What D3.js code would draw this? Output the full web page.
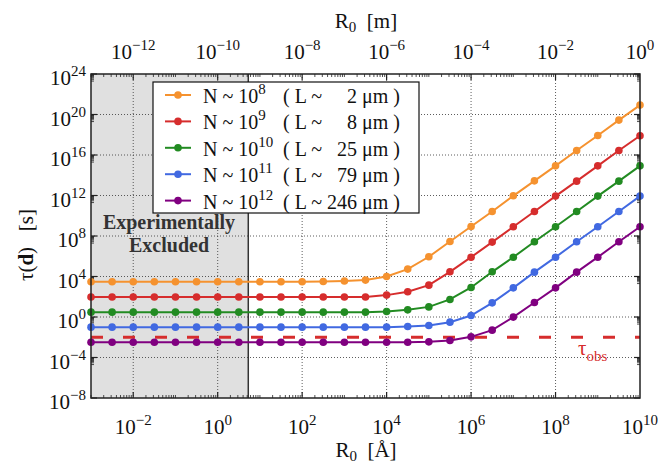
<!DOCTYPE html>
<html><head><meta charset="utf-8">
<script src="https://cdn.jsdelivr.net/npm/d3@7"></script>
<style>
body{margin:0;background:#fff;}
</style></head>
<body><svg id="c" width="658" height="464" font-family="'Liberation Serif', 'Times New Roman', Times, 'DejaVu Serif', serif"></svg>
<script>
// R0 in Angstrom
const R0 = [1e-3,3.16e-3,1e-2,3.16e-2,1e-1,3.16e-1,1,3.16,10,31.6,100,316,1e3,3.16e3,1e4,3.16e4,1e5,3.16e5,1e6,3.16e6,1e7,3.16e7,1e8,3.16e8,1e9,3.16e9,1e10];
const tauN8  = [3.0e3,3.0e3,3.0e3,3.0e3,3.0e3,3.0e3,3.0e3,3.0e3,3.0e3,3.0e3,3.0e3,3.2e3,3.6e3,4.4e3,1.0e4,5.4e4,8.9e5,2.9e7,8.7e8,2.6e10,9.3e11,2.8e13,8.5e14,2.8e16,8.5e17,2.8e19,8.5e20];
const tauN9  = [95,95,95,95,95,95,95,95,95,95,95,95,95,96,1.45e2,3.1e2,1.4e3,2.9e4,8.1e5,2.5e7,8.1e8,2.6e10,8.7e11,2.6e13,8.5e14,2.8e16,7.9e17];
const tauN10 = [3.0,3.0,3.0,3.0,3.0,3.0,3.0,3.0,3.0,3.0,3.0,3.0,3.0,3.0,3.5,5.1,10,54,830,2.9e4,8.1e5,2.7e7,8.1e8,2.6e10,8.7e11,2.6e13,8.5e14];
const tauN11 = [0.1,0.1,0.1,0.1,0.1,0.1,0.1,0.1,0.1,0.1,0.1,0.1,0.1,0.1,0.1,0.115,0.145,0.31,1.4,25,760,2.7e4,8.1e5,2.7e7,8.1e8,2.6e10,8.7e11];
const tauN12 = [3.2e-3,3.2e-3,3.2e-3,3.2e-3,3.2e-3,3.2e-3,3.2e-3,3.2e-3,3.2e-3,3.2e-3,3.2e-3,3.2e-3,3.2e-3,3.2e-3,3.2e-3,3.2e-3,3.5e-3,4.8e-3,1.1e-2,5.0e-2,0.98,27,760,2.7e4,8.1e5,2.7e7,8.1e8];
const seriesN = ["8","9","10","11","12"];
const seriesL = ["2","8","25","79","246"];
const seriesColors = ["#f5922f","#d62d2d","#228b22","#4169e1","#800080"];
const tauObs = 1e-2;
const excludedMax = 5.3; // Angstrom
const xTickExp = [-2,0,2,4,6,8,10];
const xTopTickExp = [-12,-10,-8,-6,-4,-2,0];
const yTickExp = [24,20,16,12,8,4,0,-4,-8];

const series = [tauN8,tauN9,tauN10,tauN11,tauN12];
const svg = d3.select("#c");
const L=91,R=640,T=74,B=398;
const x = d3.scaleLog().domain([1e-3,1e10]).range([L,R]);
const xTop = d3.scaleLog().domain([1e-13,1]).range([L,R]);
const y = d3.scaleLog().domain([1e-8,1e24]).range([B,T]);
const axisCol="#222";
const NB="\u00a0";
const FS=21, SFS=15;

svg.append("rect").attr("x",L).attr("y",T).attr("width",x(excludedMax)-L).attr("height",B-T).attr("fill","#e0e0e0");
svg.append("line").attr("x1",x(excludedMax)).attr("x2",x(excludedMax)).attr("y1",T).attr("y2",B).attr("stroke","#333").attr("stroke-width",1.5);

const gx = xTickExp.filter(e=>e<10);
svg.append("g").selectAll("line").data(gx).join("line")
  .attr("x1",e=>x(Math.pow(10,e))).attr("x2",e=>x(Math.pow(10,e))).attr("y1",T).attr("y2",B)
  .attr("stroke","#333").attr("stroke-width",0.8).attr("stroke-dasharray","1,2");
const gy = yTickExp.filter(e=>e<24&&e>-8);
svg.append("g").selectAll("line").data(gy).join("line")
  .attr("y1",e=>y(Math.pow(10,e))).attr("y2",e=>y(Math.pow(10,e))).attr("x1",L).attr("x2",R)
  .attr("stroke","#333").attr("stroke-width",0.8).attr("stroke-dasharray","1,2");

function xTicks(scale, lo, hi, majors, yEdge, dir){
  const g=svg.append("g");
  for(let k=lo;k<hi;k++){
    for(let m=1;m<10;m++){
      const v=m*Math.pow(10,k);
      const isMaj = (m===1 && majors.includes(k));
      const len = isMaj?6:3;
      g.append("line").attr("x1",scale(v)).attr("x2",scale(v)).attr("y1",yEdge).attr("y2",yEdge+dir*len)
       .attr("stroke",axisCol).attr("stroke-width",isMaj?1.2:0.8);
    }
  }
}
xTicks(x,-3,10,xTickExp,B,-1);
xTicks(xTop,-13,0,xTopTickExp,T,1);
function yTicks(xEdge,dir){
  const g=svg.append("g");
  yTickExp.forEach(k=>{
    const v=Math.pow(10,k);
    g.append("line").attr("y1",y(v)).attr("y2",y(v)).attr("x1",xEdge).attr("x2",xEdge+dir*6).attr("stroke",axisCol).attr("stroke-width",1.2);
    if(k>-8){
      for(let m=2;m<10;m++){
        const vv=m*Math.pow(10,k-1);
        g.append("line").attr("y1",y(vv)).attr("y2",y(vv)).attr("x1",xEdge).attr("x2",xEdge+dir*3).attr("stroke",axisCol).attr("stroke-width",0.8);
      }
    }
  });
}
yTicks(L,1); yTicks(R,-1);

svg.append("line").attr("x1",L).attr("x2",R).attr("y1",y(tauObs)).attr("y2",y(tauObs))
  .attr("stroke","#d62d2d").attr("stroke-width",3).attr("stroke-dasharray","12,20");

const line=d3.line().x((d,i)=>x(R0[i])).y(d=>y(d));
series.forEach((s,si)=>{
  const g=svg.append("g");
  g.append("path").attr("d",line(s)).attr("fill","none").attr("stroke",seriesColors[si]).attr("stroke-width",2);
  g.selectAll("circle").data(s).join("circle").attr("cx",(d,i)=>x(R0[i])).attr("cy",d=>y(d)).attr("r",3.8).attr("fill",seriesColors[si]);
});

svg.append("rect").attr("x",L).attr("y",T).attr("width",R-L).attr("height",B-T).attr("fill","none").attr("stroke",axisCol).attr("stroke-width",1.5);

function pow10(g, xx, yy, exp, anchor){
  const t=g.append("text").attr("x",xx).attr("y",yy).attr("text-anchor",anchor).attr("font-size",FS).attr("fill","#111");
  t.append("tspan").text("10");
  t.append("tspan").attr("dy",-9).attr("font-size",SFS).text(String(exp).replace("-","\u2212"));
}
const lab=svg.append("g");
xTickExp.forEach(e=>pow10(lab,x(Math.pow(10,e)),434,e,"middle"));
xTopTickExp.forEach(e=>pow10(lab,xTop(Math.pow(10,e)),59,e,"middle"));
yTickExp.forEach(e=>pow10(lab,86,y(Math.pow(10,e))+11,e,"end"));

function r0(xx,yy,unit){
  const t=svg.append("text").attr("x",xx).attr("y",yy).attr("text-anchor","middle").attr("font-size",FS).attr("fill","#111");
  t.append("tspan").text("R");
  t.append("tspan").attr("dy",4).attr("font-size",SFS).text("0");
  t.append("tspan").attr("dy",-4).text(NB+NB+unit);
}
r0(366,28,"[m]");
r0(366,457,"[Å]");
const yt=svg.append("text").attr("transform","translate(33,245) rotate(-90)").attr("text-anchor","middle").attr("font-size",FS).attr("fill","#111");
yt.append("tspan").text("τ(");
yt.append("tspan").attr("font-weight","bold").text("d");
yt.append("tspan").text(")"+NB+NB+NB+"[s]");

svg.append("text").attr("x",169).attr("y",229).attr("text-anchor","middle").attr("font-size",20).attr("font-weight","bold").attr("fill","#333").text("Experimentally");
svg.append("text").attr("x",169).attr("y",252).attr("text-anchor","middle").attr("font-size",20).attr("font-weight","bold").attr("fill","#333").text("Excluded");

const to=svg.append("text").attr("x",578).attr("y",355).attr("font-size",FS).attr("fill","#d62d2d");
to.append("tspan").text("τ");
to.append("tspan").attr("dy",6).attr("font-size",SFS).text("obs");

const lg=svg.append("g");
lg.append("rect").attr("x",153).attr("y",82).attr("width",266).attr("height",131).attr("fill","#fff").attr("stroke","#111").attr("stroke-width",1.2);
seriesN.forEach((n,i)=>{
  const yy=95+i*26.4;
  lg.append("line").attr("x1",165).attr("x2",191).attr("y1",yy).attr("y2",yy).attr("stroke",seriesColors[i]).attr("stroke-width",2);
  lg.append("circle").attr("cx",178).attr("cy",yy).attr("r",3.8).attr("fill",seriesColors[i]);
  const t=lg.append("text").attr("x",203).attr("y",yy+8).attr("font-size",20).attr("fill","#111");
  t.append("tspan").text("N ~ 10");
  t.append("tspan").attr("dy",-9).attr("font-size",15).text(n);
  lg.append("text").attr("x",283).attr("y",yy+8).attr("font-size",20).attr("fill","#111").text("( L ~");
  lg.append("text").attr("x",400).attr("y",yy+8).attr("text-anchor","end").attr("font-size",20).attr("fill","#111").text(seriesL[i]+" μm )");
});
</script></body></html>
